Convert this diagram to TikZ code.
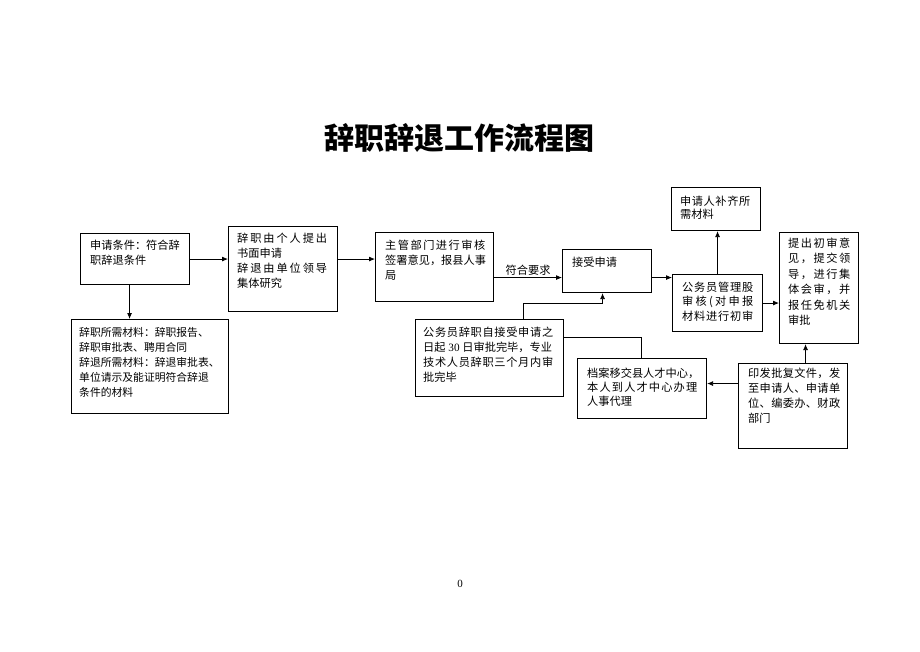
\documentclass[tikz,border=0pt]{standalone}
\usepackage{fontspec}
\setmainfont{Noto Sans CJK SC}
\newfontfamily\lserif{Liberation Serif}
\usetikzlibrary{arrows.meta}
\makeatletter
\def\sprx#1{#1\futurelet\sprnext\spry}
\def\spry{\ifx\sprnext\relax\expandafter\@gobble\else\hfill\expandafter\sprx\fi}
\makeatother
\newcommand\spr[2]{\makebox[#1][s]{\sprx#2\relax}}
\begin{document}
\begin{tikzpicture}[x=1pt,y=-1pt,
  box/.style={draw, line width=1.1pt, anchor=north west, inner sep=0pt},
  txt/.style={anchor=north west, inner sep=0pt, align=left, font=\fontsize{11.2}{15}\selectfont},
  arr/.style={line width=0.8pt, -{Latex[length=6pt,width=5pt]}},
  ln/.style={line width=0.8pt}]
\useasboundingbox (0,0) rectangle (920,651);
% title
\node[font=\fontsize{30}{32}\selectfont\bfseries] (title) at (459,138) {辞职辞退工作流程图};
% boxes
\node[box, minimum width=109pt, minimum height=51pt] (a) at (80,233) {};
\node[box, minimum width=157pt, minimum height=94pt] (b) at (71,319) {};
\node[box, minimum width=109pt, minimum height=85pt] (c) at (228,226) {};
\node[box, minimum width=118pt, minimum height=69pt] (d) at (375,232) {};
\node[box, minimum width=89pt, minimum height=43pt] (e) at (562,249) {};
\node[box, minimum width=148pt, minimum height=77pt] (f) at (415,319) {};
\node[box, minimum width=129pt, minimum height=60pt] (g) at (577,358) {};
\node[box, minimum width=109pt, minimum height=85pt] (h) at (738,363) {};
\node[box, minimum width=79pt, minimum height=111pt] (i) at (779,232) {};
\node[box, minimum width=90pt, minimum height=57pt] (j) at (672,274) {};
\node[box, minimum width=89pt, minimum height=43pt] (k) at (671,187) {};
% texts
\node[txt] (at) at (90,239.5) {申请条件：符合辞\\职辞退条件};
\node[txt, font=\fontsize{10.8}{15}\selectfont] (bt) at (79,327.5) {辞职所需材料：辞职报告、\\辞职审批表、聘用合同\\辞退所需材料：辞退审批表、\\单位请示及能证明符合辞退\\条件的材料};
\node[txt] (ct) at (237,232.5) {\spr{90pt}{辞职由个人提出}\\书面申请\\\spr{90pt}{辞退由单位领导}\\集体研究};
\node[txt] (dt) at (385,239.5) {\spr{100pt}{主管部门进行审核}\\\spr{100pt}{签署意见，报县人事}\\局};
\node[txt] (et) at (572,256.5) {接受申请};
\node[txt] (ft) at (423,326.5) {\spr{130pt}{公务员辞职自接受申请之}\\日起{\lserif\ 30\ }日审批完毕，专业\\\spr{130pt}{技术人员辞职三个月内审}\\批完毕};
\node[txt, font=\fontsize{11.2}{14}\selectfont] (gt) at (587,367.5) {档案移交县人才中心，\\\spr{110pt}{本人到人才中心办理}\\人事代理};
\node[txt] (ht) at (748,367.5) {\spr{92pt}{印发批复文件，发}\\\spr{92pt}{至申请人、申请单}\\\spr{92pt}{位、编委办、财政}\\部门};
\node[txt, font=\fontsize{11.2}{15.5}\selectfont] (it) at (788,237.5) {\spr{62pt}{提出初审意}\\\spr{62pt}{见，提交领}\\\spr{62pt}{导，进行集}\\\spr{62pt}{体会审，并}\\\spr{62pt}{报任免机关}\\审批};
\node[txt, font=\fontsize{11.2}{14.5}\selectfont] (jt) at (682,281.5) {\spr{71pt}{公务员管理股}\\\spr{71pt}{审核(对申报}\\\spr{71pt}{材料进行初审}};
\node[txt, font=\fontsize{11.2}{13.5}\selectfont] (kt) at (680,195.5) {\spr{70pt}{申请人补齐所}\\需材料};
% connectors
\draw[arr] (a.east) -- (a.east -| c.west);
\draw[arr] ([xshift=-5.5pt]a.south) -- ([xshift=-5.5pt]a.south |- b.north);
\draw[arr] (a.east -| c.east) -- (a.east -| d.west);
\draw[arr] ([yshift=-6.5pt]e.west -| d.east) -- node[above, font=\fontsize{11.2}{13}\selectfont, inner sep=2pt] (lbl) {符合要求} ([yshift=-6.5pt]e.west);
\draw[arr] ([yshift=-6.5pt]e.east) -- ([yshift=-6.5pt]e.east -| j.west);
\draw[arr] (j.east) -- (j.east -| i.west);
\draw[arr] (j.north) -- (j.north |- k.south);
\draw[arr] ([xshift=12.5pt]h.north) -- ([xshift=12.5pt]h.north |- i.south);
\draw[arr] ([yshift=5pt]g.east -| h.west) -- ([yshift=5pt]g.east);
\coordinate (fe) at (523,303);
\draw[arr] (f.north -| fe) -- (fe) -| ([xshift=-4.5pt]e.south);
\coordinate (fg) at (641,337);
\draw[ln] (fg -| f.east) -- (fg) -- (fg |- g.north);
% page number
\node[font=\lserif\fontsize{11}{13}\selectfont] (pg) at (460,584) {0};
\end{tikzpicture}
\end{document}
